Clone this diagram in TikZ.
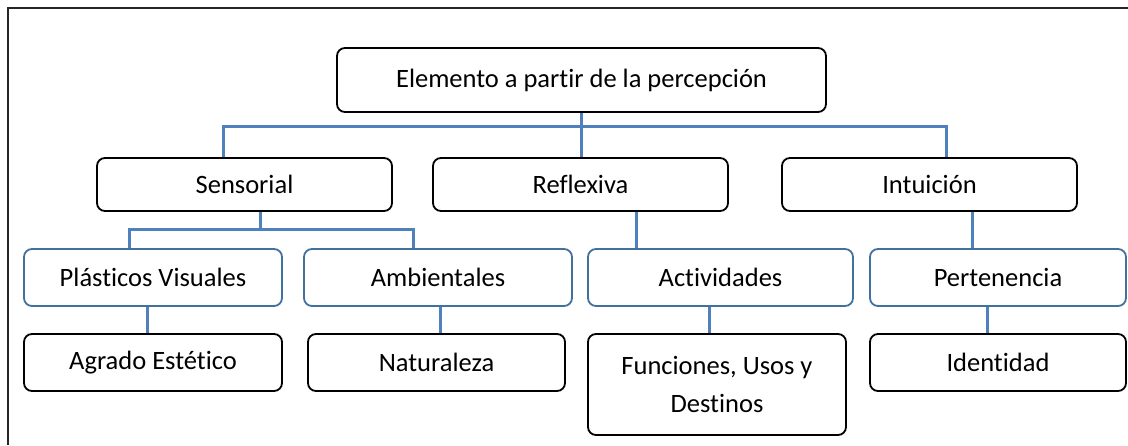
\documentclass[tikz,border=0pt]{standalone}
\usepackage{fontspec}
\setmainfont{Carlito}[Ligatures=CommonOff]
\usetikzlibrary{backgrounds}

\definecolor{linkblue}{RGB}{79,129,189}
\definecolor{edgeblue}{RGB}{65,113,156}

\begin{document}
\begin{tikzpicture}[x=1pt, y=-1pt, font=\fontsize{26.5}{38}\selectfont]
    \useasboundingbox (0,0) rectangle (1128,445);

    % Define styles
    \tikzstyle{box}=[rectangle, rounded corners=8pt, draw=black, line width=1.8pt, fill=white, align=center, inner sep=0pt]
    \tikzstyle{sub}=[box, draw=edgeblue]
    \tikzstyle{link}=[draw=linkblue, line width=3pt]

    % frame
    \draw[line width=1.6pt, black!85] (1128,8) -- (8,8) -- (8,445);

    \node[box, minimum width=489pt, minimum height=64pt] (elem) at (581.5,80) {Elemento a partir de la percepción};

    \node[box, minimum width=295pt, minimum height=53pt] (sens) at (244.5,184.5) {Sensorial};
    \node[box, minimum width=295pt, minimum height=53pt] (refl) at (580.5,184.5) {Reflexiva};
    \node[box, minimum width=295pt, minimum height=53pt] (intu) at (929.5,184.5) {Intuición};

    \node[sub, minimum width=258pt, minimum height=57pt] (plas) at (153,277.5) {Plásticos Visuales};
    \node[sub, minimum width=268pt, minimum height=57pt] (amb) at (438,277.5) {Ambientales};
    \node[sub, minimum width=265pt, minimum height=57pt] (act) at (720.5,277.5) {Actividades};
    \node[sub, minimum width=256pt, minimum height=57pt] (pert) at (998,277.5) {Pertenencia};

    \node[box, minimum width=258pt, minimum height=57pt] (agr) at (153,362.5) {Agrado Estético};
    \node[box, minimum width=257pt, minimum height=57pt] (nat) at (436.5,362.5) {Naturaleza};
    \node[box, minimum width=258pt, minimum height=101pt] (fun) at (717,384.5) {Funciones, Usos y\\Destinos};
    \node[box, minimum width=256pt, minimum height=57pt] (iden) at (998,362.5) {Identidad};

    \coordinate (topbus) at (581.5,126);
    \coordinate (sensbus) at (260,229);

    \begin{scope}[on background layer]
        \draw[link] (elem.south) -- ([xshift=1pt]refl.north);
        \draw[link] ([xshift=-21.5pt]sens.north) |- (topbus) -| ([xshift=16.5pt]intu.north);
        \draw[link] ([xshift=15.5pt]sens.south) -- (sensbus);
        \draw[link] ([xshift=-24pt]plas.north) |- (sensbus) -| ([xshift=-25pt]amb.north);
        \draw[link] ([xshift=55.5pt]refl.south) -- ([xshift=-84.5pt]act.north);
        \draw[link] ([xshift=42.5pt]intu.south) -- ([xshift=-26pt]pert.north);
        \draw[link] ([xshift=-6pt]plas.south) -- ([xshift=-6pt]agr.north);
        \draw[link] ([xshift=2pt]amb.south) -- ([xshift=3.5pt]nat.north);
        \draw[link] ([xshift=-11.5pt]act.south) -- ([xshift=-8pt]fun.north);
        \draw[link] ([xshift=-11pt]pert.south) -- ([xshift=-11pt]iden.north);
    \end{scope}
\end{tikzpicture}
\end{document}
